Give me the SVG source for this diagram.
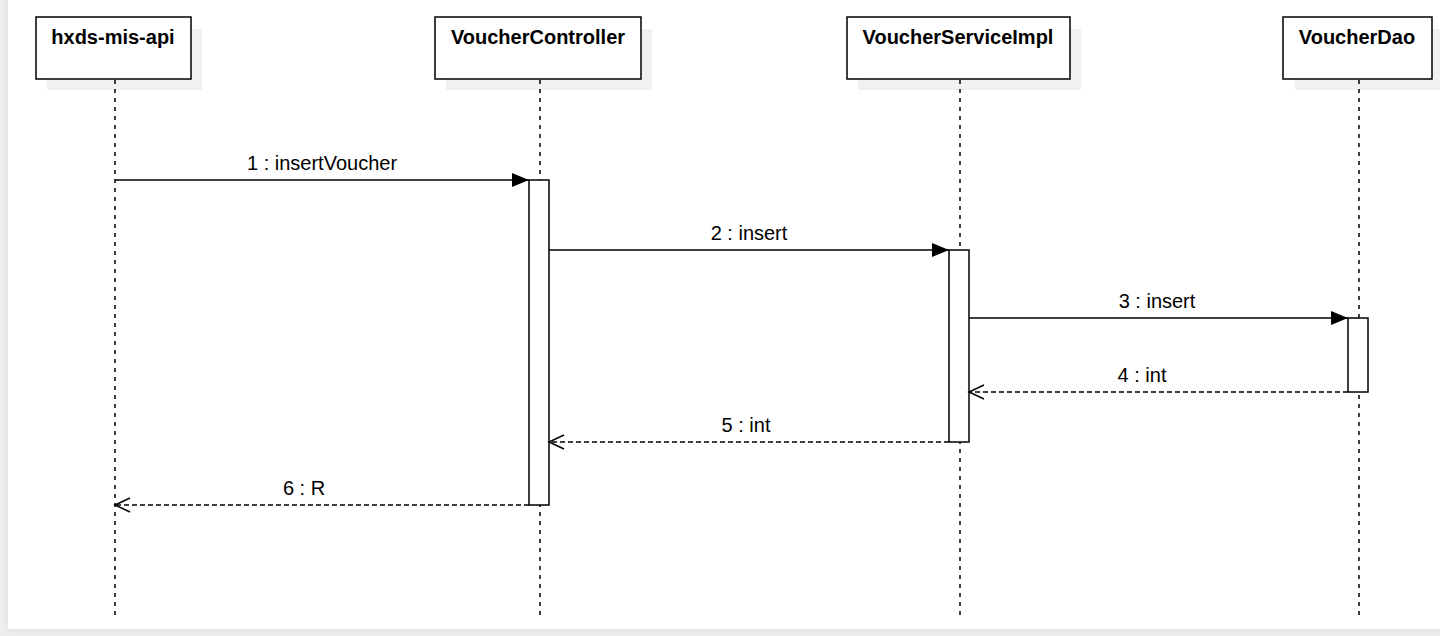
<svg xmlns="http://www.w3.org/2000/svg" width="1440" height="636" viewBox="0 0 1440 636">
  <defs>
    <style>
      .bg { fill: #eeeeee; }
      .panel { fill: #ffffff; }
      .shadow { fill: #f1f1f1; }
      .box { fill: #ffffff; stroke: #000000; stroke-width: 1.5; }
      .title { font-family: "Liberation Sans", Arial, sans-serif; font-size: 20px; font-weight: bold; fill: #000000; text-anchor: middle; }
      .lifeline { stroke: #000000; stroke-width: 1.5; stroke-dasharray: 4 5; fill: none; }
      .act { fill: #ffffff; stroke: #000000; stroke-width: 1.5; }
      .msg { stroke: #000000; stroke-width: 1.5; fill: none; }
      .ret { stroke: #000000; stroke-width: 1.4; fill: none; stroke-dasharray: 5 3; }
      .label { font-family: "Liberation Sans", Arial, sans-serif; font-size: 20px; fill: #000000; text-anchor: middle; }
    </style>
    <marker id="filled" markerUnits="userSpaceOnUse" markerWidth="18" markerHeight="16" refX="17" refY="7" orient="auto">
      <path d="M0,0 L17,7 L0,14 Z" fill="#000000"/>
    </marker>
    <marker id="open" markerUnits="userSpaceOnUse" markerWidth="18" markerHeight="18" refX="16" refY="8" orient="auto">
      <path d="M1,1 L16,8 L1,15" fill="none" stroke="#000000" stroke-width="1.5"/>
    </marker>
    <filter id="soft" x="-5%" y="-5%" width="110%" height="110%">
      <feDropShadow dx="0" dy="1" stdDeviation="3" flood-color="#000000" flood-opacity="0.08"/>
    </filter>
  </defs>

  <rect class="bg" x="0" y="0" width="1440" height="636"/>
  <rect class="panel" x="8" y="-10" width="1442" height="639" filter="url(#soft)"/>

  <g id="node-hxds-mis-api">
    <rect class="shadow" x="47" y="29" width="155" height="61"/>
    <rect class="box" x="36" y="17" width="155" height="62"/>
    <text class="title" x="113" y="44">hxds-mis-api</text>
  </g>

  <g id="node-VoucherController">
    <rect class="shadow" x="446" y="29" width="206" height="61"/>
    <rect class="box" x="435" y="17" width="206" height="62"/>
    <text class="title" x="538" y="44">VoucherController</text>
  </g>

  <g id="node-VoucherServiceImpl">
    <rect class="shadow" x="858" y="29" width="223" height="61"/>
    <rect class="box" x="847" y="17" width="223" height="62"/>
    <text class="title" x="958" y="44">VoucherServiceImpl</text>
  </g>

  <g id="node-VoucherDao">
    <rect class="shadow" x="1295" y="29" width="149" height="61"/>
    <rect class="box" x="1283" y="17" width="149" height="62"/>
    <text class="title" x="1357" y="44">VoucherDao</text>
  </g>

  <g id="lifelines">
    <line class="lifeline" x1="115" y1="80" x2="115" y2="617"/>
    <line class="lifeline" x1="540" y1="80" x2="540" y2="617"/>
    <line class="lifeline" x1="960" y1="80" x2="960" y2="617"/>
    <line class="lifeline" x1="1359" y1="80" x2="1359" y2="617"/>
  </g>

  <g id="activations">
    <rect class="act" x="529" y="180" width="20" height="325"/>
    <rect class="act" x="949" y="250" width="20" height="192"/>
    <rect class="act" x="1348" y="318" width="20" height="74"/>
  </g>

  <g id="connectors">
    <line class="msg" x1="115" y1="180" x2="529" y2="180" marker-end="url(#filled)"/>
    <line class="msg" x1="549" y1="250" x2="949" y2="250" marker-end="url(#filled)"/>
    <line class="msg" x1="969" y1="318" x2="1348" y2="318" marker-end="url(#filled)"/>
    <line class="ret" x1="1348" y1="392" x2="969" y2="392" marker-end="url(#open)"/>
    <line class="ret" x1="949" y1="442" x2="549" y2="442" marker-end="url(#open)"/>
    <line class="ret" x1="529" y1="505" x2="115" y2="505" marker-end="url(#open)"/>
  </g>

  <g id="labels">
    <text class="label" x="322" y="170">1 : insertVoucher</text>
    <text class="label" x="749" y="240">2 : insert</text>
    <text class="label" x="1157" y="308">3 : insert</text>
    <text class="label" x="1142" y="382">4 : int</text>
    <text class="label" x="746" y="432">5 : int</text>
    <text class="label" x="304" y="495">6 : R</text>
  </g>
</svg>
